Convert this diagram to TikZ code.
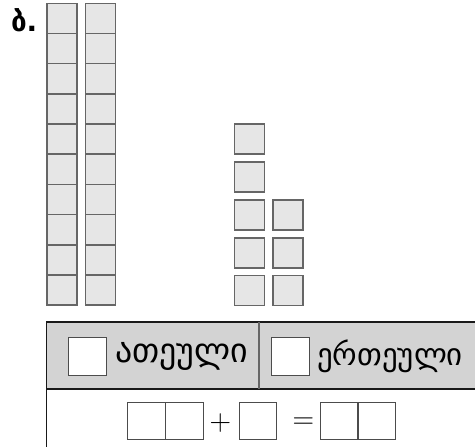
\documentclass[tikz,border=0pt]{standalone}
\usepackage{fontspec}
\newfontfamily\geofont{DejaVu Sans}
\usepackage{tikz}
\usetikzlibrary{positioning}
\definecolor{cellgray}{HTML}{E6E6E6}
\definecolor{headgray}{HTML}{D3D3D3}
\tikzset{
    % unit cube of the rods and of the loose units
    cube/.style={
           draw=black!60,
           fill=cellgray,
           line width=1.4bp,
           minimum size=30bp,
           inner sep=0pt,},
    % empty box to write a digit in
    digit/.style={
           draw=black!70,
           fill=white,
           line width=0.9bp,
           minimum size=37.5bp,
           inner sep=0pt,},
    geo/.style={
           font=\geofont\fontsize{34}{35}\selectfont,
           inner sep=0pt,},
    sign/.style={
           font=\fontsize{30}{30}\selectfont,
           inner sep=0pt,}
}
\begin{document}
\begin{tikzpicture}[x=1bp, y=-1bp, outer sep = 0pt]

\useasboundingbox (0,0) rectangle (475,447);

% task letter
\node [anchor=base west, inner sep=0pt, font=\geofont\bfseries\fontsize{28}{28}\selectfont] (letter) at (11,32) {ბ.};

% two rods of ten
\foreach \k in {0,...,9}{
  \node [cube] (rodA\k) at (62, 18.3+30.2*\k) {};
  \node [cube] (rodB\k) at (100.5, 18.3+30.2*\k) {};
}

% loose units
\node [cube] (unitA1) at (249.5, 139) {};
\node [cube] (unitA2) at (249.5, 177) {};
\node [cube] (unitA3) at (249.5, 215) {};
\node [cube] (unitA4) at (249.5, 253) {};
\node [cube] (unitA5) at (249.5, 290.5) {};
\node [cube] (unitB3) at (288, 215) {};
\node [cube] (unitB4) at (288, 253) {};
\node [cube] (unitB5) at (288, 290.5) {};

% table head
\filldraw [black!90, fill=headgray, line width=1.3bp] (46.5,322) rectangle (476,389);
\draw [black!60, line width=1.1bp] (259,322) -- (259,389);
\draw [black!90, line width=1.3bp] (46.5,389) -- (46.5,448);

% tens and ones
\node [digit] (tensbox) at (87.5, 356.5) {};
\node [geo, anchor=west, right=9bp of tensbox] (tenslabel) {ათეული};
\node [digit] (onesbox) at (290.5, 356.5) {};
\node [geo, anchor=west, right=8bp of onesbox, font=\geofont\fontsize{31}{32}\selectfont] (oneslabel) {ერთეული};

% equation
\node [digit] (sumAt) at (146.5, 421) {};
\node [digit] (sumAo) at (184.5, 421) {};
\node [digit] (sumBo) at (258, 421) {};
\node [digit] (resT) at (339, 421) {};
\node [digit] (resO) at (377, 421) {};
\node [sign] (plus) at (220.5, 423) {+};
\node [sign] (equals) at (303.5, 423) {=};

\end{tikzpicture}
\end{document}
